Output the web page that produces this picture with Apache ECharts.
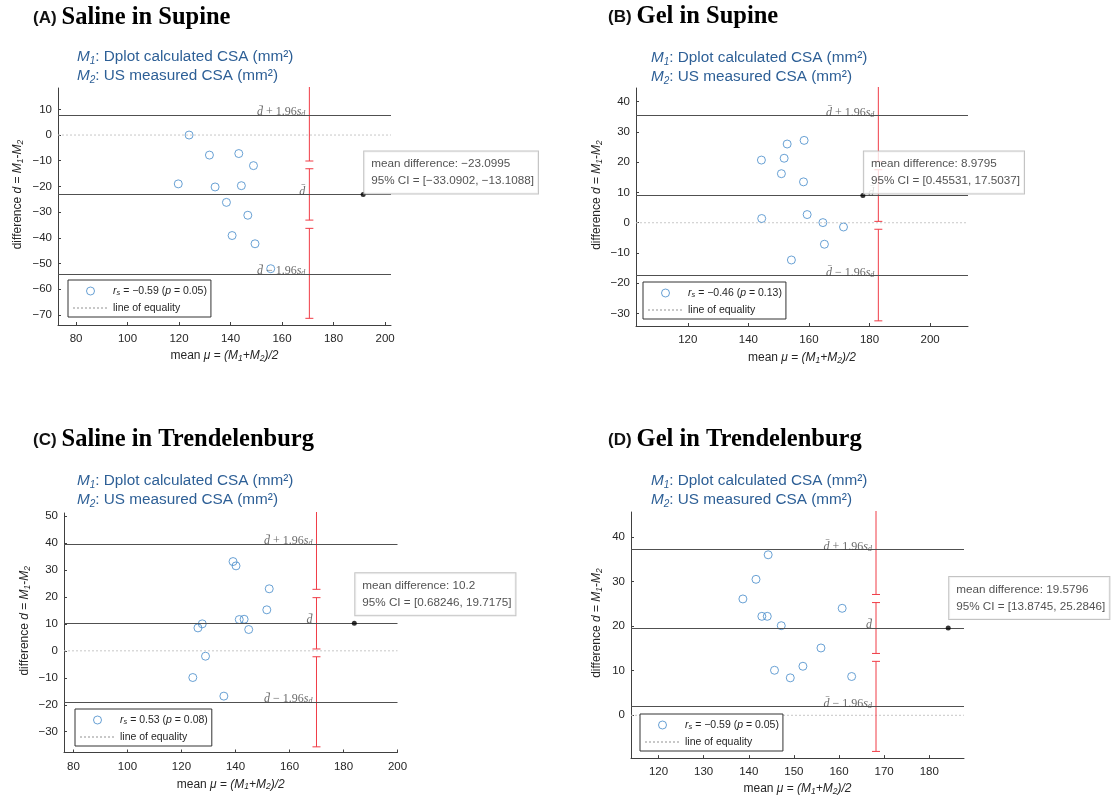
<!DOCTYPE html>
<html>
<head>
<meta charset="utf-8">
<script src="https://cdn.jsdelivr.net/npm/echarts@6/dist/echarts.min.js"></script>
<style>
html, body { margin: 0; padding: 0; background: #fff; }
#wrap { position: relative; width: 1114px; height: 801px; }
.panel { position: absolute; width: 557px; }
</style>
</head>
<body>
<div id="wrap">
  <div id="pA" class="panel" style="left:0;top:0;height:420px"></div>
  <div id="pB" class="panel" style="left:557px;top:0;height:420px"></div>
  <div id="pC" class="panel" style="left:0;top:420px;height:381px"></div>
  <div id="pD" class="panel" style="left:557px;top:420px;height:381px"></div>
</div>
<script>
// (A) Saline in Supine
const salineSupineMean = [123.9, 131.8, 143.2, 148.9, 119.7, 134.0, 144.2, 138.4, 146.7, 140.6, 149.5, 155.6]
const salineSupineDiff = [0.0, -7.8, -7.2, -11.9, -19.0, -20.2, -19.7, -26.2, -31.2, -39.1, -42.3, -52.0]
const salineSupineLines = [7.8, -23.0995, -54.0]   // upper LoA, mean difference, lower LoA
const salineSupineCI = [[-10.1, 25.7], [-33.0902, -13.1088], [-71.3, -36.3]]
const salineSupineRs = [-0.59, 0.05]
const salineSupineXTicks = [80, 100, 120, 140, 160, 180, 200]
const salineSupineYTicks = [-70, -60, -50, -40, -30, -20, -10, 0, 10]
const salineSupineXLim = [73, 202.3]
const salineSupineYLim = [-73.9, 18.3]
const salineSupineBarX = 170.6
const salineSupineMarkX = 191.5

// (B) Gel in Supine
const gelSupineMean = [144.3, 152.8, 158.4, 151.8, 150.9, 158.2, 144.4, 159.4, 164.6, 171.4, 165.1, 154.2]
const gelSupineDiff = [20.7, 26.0, 27.2, 21.3, 16.2, 13.5, 1.4, 2.7, 0.05, -1.4, -7.1, -12.3]
const gelSupineLines = [35.4, 8.9795, -17.4]
const gelSupineCI = [[20.3, 50.5], [0.45531, 17.5037], [-32.4, -2.15]]
const gelSupineRs = [-0.46, 0.13]
const gelSupineXTicks = [120, 140, 160, 180, 200]
const gelSupineYTicks = [-30, -20, -10, 0, 10, 20, 30, 40]
const gelSupineXLim = [102.9, 212.5]
const gelSupineYLim = [-34.1, 44.5]
const gelSupineBarX = 182.9
const gelSupineMarkX = 177.8

// (C) Saline in Trendelenburg
const salineTrendMean = [139.1, 140.2, 152.5, 151.6, 127.7, 126.1, 141.4, 143.2, 144.9, 128.9, 124.2, 135.7]
const salineTrendDiff = [33.1, 31.5, 23.0, 15.2, 10.0, 8.5, 11.6, 11.7, 7.9, -2.0, -9.9, -16.8]
const salineTrendLines = [39.6, 10.2, -19.1]
const salineTrendCI = [[22.8, 56.4], [0.68246, 19.7175], [-35.6, -2.2]]
const salineTrendRs = [0.53, 0.08]
const salineTrendXTicks = [80, 100, 120, 140, 160, 180, 200]
const salineTrendYTicks = [-30, -20, -10, 0, 10, 20, 30, 40, 50]
const salineTrendXLim = [76.5, 200]
const salineTrendYLim = [-37.7, 51.1]
const salineTrendBarX = 170.0
const salineTrendMarkX = 184.0

// (D) Gel in Trendelenburg
const gelTrendMean = [144.3, 141.6, 138.7, 142.9, 144.1, 147.2, 160.7, 156.0, 145.7, 152.0, 149.2, 162.8]
const gelTrendDiff = [36.0, 30.5, 26.1, 22.2, 22.2, 20.1, 24.0, 15.1, 10.1, 11.0, 8.4, 8.7]
const gelTrendLines = [37.2, 19.5796, 1.95]
const gelTrendCI = [[27.1, 47.3], [13.8745, 25.2846], [-8.1, 12.1]]
const gelTrendRs = [-0.59, 0.05]
const gelTrendXTicks = [120, 130, 140, 150, 160, 170, 180]
const gelTrendYTicks = [0, 10, 20, 30, 40]
const gelTrendXLim = [113.9, 187.7]
const gelTrendYLim = [-9.6, 45.6]
const gelTrendBarX = 168.2
const gelTrendMarkX = 184.2

const SANS = '"Liberation Sans", Arial, sans-serif'
const SERIF = '"Liberation Serif", "Times New Roman", serif'
const BLUE = '#4489c9'
const RED = '#f03c46'
const INK = '#262626'

const fmt = v => (v < 0 ? '\u2212' : '') + Math.abs(v)

const paintPanel = (domId, p, lay) => {
  const chart = echarts.init(document.getElementById(domId))
  const rsText = '{i|r}{sub|s} = ' + fmt(p.rs[0]) + ' ({i|p} = ' + p.rs[1] + ')'
  const subRich = {
    m: { fontFamily: SANS, fontSize: 15.3, fontWeight: 'normal', fontStyle: 'italic', color: '#2d5f96', lineHeight: 19 },
    k: { fontFamily: SANS, fontSize: 10, fontWeight: 'normal', fontStyle: 'italic', color: '#2d5f96', verticalAlign: 'bottom', lineHeight: 16 },
    t: { fontFamily: SANS, fontSize: 15.3, fontWeight: 'normal', color: '#2d5f96', lineHeight: 19 }
  }
  const nameRich = {
    t: { fontFamily: SANS, fontSize: 12, color: INK },
    i: { fontFamily: SANS, fontSize: 12, color: INK, fontStyle: 'italic' },
    s: { fontFamily: SANS, fontSize: 8.5, color: INK, fontStyle: 'italic', verticalAlign: 'bottom', padding: [5, 0, 0, 0] }
  }
  const labRich = {
    d: { fontFamily: SERIF, fontSize: 12, fontStyle: 'italic', color: '#444' },
    t: { fontFamily: SERIF, fontSize: 12, color: '#444' },
    s: { fontFamily: SERIF, fontSize: 12, fontStyle: 'italic', color: '#444' },
    b: { fontFamily: SERIF, fontSize: 8, fontStyle: 'italic', color: '#444', verticalAlign: 'bottom', padding: [4, 0, 0, 0] }
  }
  const lineLabels = ['{d|d\u0304}{t| + 1.96}{s|s}{b|d}', '{d|d\u0304}', '{d|d\u0304}{t| \u2212 1.96}{s|s}{b|d}']

  const option = {
    animation: false,
    title: [
      {
        text: '{a|' + p.tag + '} {b|' + p.title + '}',
        left: lay.title[0], top: lay.title[1], padding: 0,
        textStyle: {
          fontWeight: 'bold',
          rich: {
            a: { fontFamily: SANS, fontWeight: 'bold', fontSize: 17, color: '#111', lineHeight: 28 },
            b: { fontFamily: SERIF, fontWeight: 'bold', fontSize: 24.5, color: '#000', lineHeight: 28 }
          }
        }
      },
      {
        text: '{m|M}{k|1}{t|: Dplot calculated CSA (mm\u00b2)}\n{m|M}{k|2}{t|: US measured CSA (mm\u00b2)}',
        left: lay.sub[0], top: lay.sub[1], padding: 0,
        textStyle: { fontWeight: 'normal', rich: subRich }
      }
    ],
    grid: { left: lay.grid[0], top: lay.grid[1], width: lay.grid[2], height: lay.grid[3] },
    legend: {
      orient: 'vertical', left: lay.legend[0], top: lay.legend[1],
      padding: [5, 4, 3, 4], itemGap: 5, itemWidth: 35, itemHeight: 8,
      borderColor: '#333', borderWidth: 1, backgroundColor: '#fff',
      data: [
        { name: 'points', icon: 'circle', itemStyle: { color: '#fff', borderColor: BLUE, borderWidth: 1 } },
        { name: 'line of equality', itemStyle: { color: 'rgba(0,0,0,0)', borderWidth: 0 } }
      ],
      formatter: name => name === 'points' ? rsText : name,
      textStyle: {
        fontFamily: SANS, fontSize: 10.5, color: INK, lineHeight: 12,
        rich: {
          i: { fontFamily: SANS, fontSize: 10.5, fontStyle: 'italic', color: INK },
          sub: { fontFamily: SANS, fontSize: 7.5, fontStyle: 'italic', color: INK, verticalAlign: 'bottom', padding: [4, 0, 0, 0] }
        }
      }
    },
    xAxis: {
      type: 'value', min: p.xLim[0], max: p.xLim[1],
      axisLine: { onZero: false, lineStyle: { color: '#404040' } },
      axisTick: { inside: true, length: 3, customValues: p.xTicks, lineStyle: { color: '#404040' } },
      axisLabel: { customValues: p.xTicks, formatter: fmt, color: INK, fontSize: 11.5, fontFamily: SANS, margin: 8 },
      splitLine: { show: false },
      name: '{t|mean }{i|\u03bc}{t| = }{i|(M}{s|1}{i|+M}{s|2}{i|)/2}',
      nameLocation: 'middle', nameGap: lay.xGap,
      nameTextStyle: { rich: nameRich }
    },
    yAxis: {
      type: 'value', min: p.yLim[0], max: p.yLim[1],
      axisLine: { show: true, onZero: false, lineStyle: { color: '#404040' } },
      axisTick: { show: true, inside: true, length: 3, customValues: p.yTicks, lineStyle: { color: '#404040' } },
      axisLabel: { customValues: p.yTicks, formatter: fmt, color: INK, fontSize: 11.5, fontFamily: SANS, margin: 6 },
      splitLine: { show: false },
      name: '{t|difference }{i|d}{t| = }{i|M}{s|1}{t|-}{i|M}{s|2}',
      nameLocation: 'middle', nameGap: lay.yGap, nameMoveOverlap: false,
      nameTextStyle: { rich: nameRich, padding: [0, 0, 0, 24] }
    },
    series: [
      {
        name: 'line of equality', type: 'line', symbol: 'none', showSymbol: false, z: 1, silent: true,
        data: [[p.xLim[0], 0], [p.xLim[1], 0]],
        lineStyle: { color: '#c8c8c8', width: 1, type: [2, 2] },
        markLine: {
          silent: true, symbol: ['none', 'none'], label: { show: false },
          lineStyle: { color: '#505050', width: 1, type: 'solid' },
          data: p.lines.map(v => ({ yAxis: v }))
        }
      },
      {
        type: 'custom', z: 4, silent: true,
        data: p.ci.map(c => [p.barX, c[0], c[1]]),
        renderItem: (params, api) => {
          const a = api.coord([api.value(0), api.value(1)])
          const b = api.coord([api.value(0), api.value(2)])
          const style = { stroke: RED, lineWidth: 1 }
          const cs = params.coordSys
          return {
            type: 'group',
            clipPath: { type: 'rect', shape: { x: cs.x, y: cs.y - 1, width: cs.width, height: cs.height + 1 } },
            children: [
              { type: 'line', shape: { x1: a[0], y1: a[1], x2: b[0], y2: b[1] }, style },
              { type: 'line', shape: { x1: a[0] - 4, y1: a[1], x2: a[0] + 4, y2: a[1] }, style },
              { type: 'line', shape: { x1: b[0] - 4, y1: b[1], x2: b[0] + 4, y2: b[1] }, style }
            ]
          }
        }
      },
      {
        name: 'points', type: 'scatter', symbol: 'circle', symbolSize: 8, z: 3,
        data: p.mean.map((m, i) => [m, p.diff[i]]),
        itemStyle: { color: 'rgba(255,255,255,0)', borderColor: BLUE, borderWidth: 1 }
      },
      {
        type: 'scatter', symbolSize: 0, z: 5, silent: true,
        data: p.lines.map((v, i) => [p.barX, v, i]),
        label: {
          show: true, position: [0, 0], align: 'right', verticalAlign: 'bottom', offset: [-4, 3],
          formatter: prm => lineLabels[prm.value[2]],
          rich: labRich
        }
      },
      {
        type: 'scatter', symbol: 'circle', symbolSize: 5, z: 10, silent: true,
        data: [[p.markX, p.lines[1]]],
        itemStyle: { color: '#000' },
        label: {
          show: true, position: [3.5, 2.5 - lay.lift], align: 'left', verticalAlign: 'bottom',
          formatter: 'mean difference: ' + fmt(p.lines[1]) + '\n95% CI = [' + fmt(p.ci[1][0]) + ', ' + fmt(p.ci[1][1]) + ']',
          fontFamily: SANS, fontSize: 11.7, lineHeight: 17, color: INK,
          backgroundColor: '#fff', borderColor: '#b4b4b4', borderWidth: 1,
          padding: [4, 4, 4, 7]
        }
      }
    ]
  }
  chart.setOption(option)
  window.addEventListener('resize', chart.resize)
}

paintPanel('pA', {
  tag: '(A)', title: 'Saline in Supine', mean: salineSupineMean, diff: salineSupineDiff,
  lines: salineSupineLines, ci: salineSupineCI, rs: salineSupineRs,
  xTicks: salineSupineXTicks, yTicks: salineSupineYTicks, xLim: salineSupineXLim, yLim: salineSupineYLim,
  barX: salineSupineBarX, markX: salineSupineMarkX
}, { grid: [58, 88, 333, 237], title: [33, 4], sub: [77, 47], legend: [68, 280], xGap: 24, yGap: 33, lift: 1 })

paintPanel('pB', {
  tag: '(B)', title: 'Gel in Supine', mean: gelSupineMean, diff: gelSupineDiff,
  lines: gelSupineLines, ci: gelSupineCI, rs: gelSupineRs,
  xTicks: gelSupineXTicks, yTicks: gelSupineYTicks, xLim: gelSupineXLim, yLim: gelSupineYLim,
  barX: gelSupineBarX, markX: gelSupineMarkX
}, { grid: [79, 88, 332, 238], title: [51, 3], sub: [94, 48], legend: [86, 282], xGap: 25, yGap: 32, lift: 2 })

paintPanel('pC', {
  tag: '(C)', title: 'Saline in Trendelenburg', mean: salineTrendMean, diff: salineTrendDiff,
  lines: salineTrendLines, ci: salineTrendCI, rs: salineTrendRs,
  xTicks: salineTrendXTicks, yTicks: salineTrendYTicks, xLim: salineTrendXLim, yLim: salineTrendYLim,
  barX: salineTrendBarX, markX: salineTrendMarkX
}, { grid: [64, 93, 333.5, 239.5], title: [33, 6], sub: [77, 51], legend: [75, 289], xGap: 25, yGap: 32, lift: 8 })

paintPanel('pD', {
  tag: '(D)', title: 'Gel in Trendelenburg', mean: gelTrendMean, diff: gelTrendDiff,
  lines: gelTrendLines, ci: gelTrendCI, rs: gelTrendRs,
  xTicks: gelTrendXTicks, yTicks: gelTrendYTicks, xLim: gelTrendXLim, yLim: gelTrendYLim,
  barX: gelTrendBarX, markX: gelTrendMarkX
}, { grid: [74, 92, 333, 248], title: [51, 6], sub: [94, 51], legend: [83, 294], xGap: 23, yGap: 27, lift: 9 })
</script>
</body>
</html>
